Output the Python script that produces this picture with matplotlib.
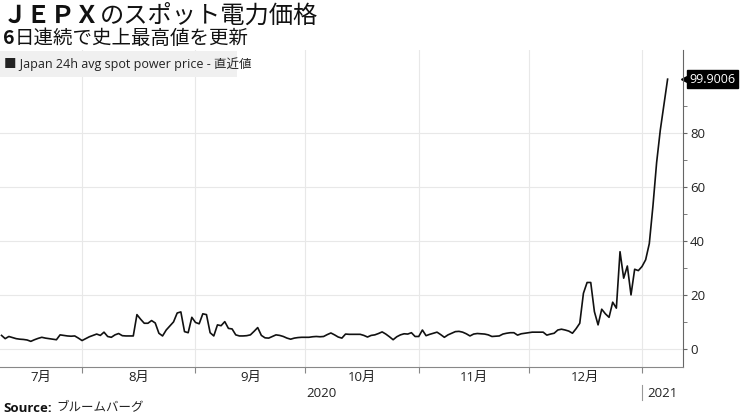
import pandas as pd
import matplotlib
matplotlib.use("Agg")
import matplotlib.pyplot as plt
import matplotlib.dates as mdates
from matplotlib.patches import Rectangle
from matplotlib.lines import Line2D

# daily 24h avg spot price (starts 2020-07-10)
jul = [5.0, 3.8, 4.6, 4.2, 3.8, 3.6, 3.5, 3.3, 2.8, 3.4, 3.9, 4.3, 4.0, 3.8,
       3.6, 3.4, 5.2, 5.0, 4.8, 4.7, 4.8, 4.0]
aug = [3.1, 3.8, 4.5, 5.0, 5.5, 5.0, 6.2, 4.6, 4.3, 5.2, 5.7, 4.9, 4.8, 4.8,
       4.8, 12.7, 11.0, 9.5, 9.5, 10.5, 9.6, 5.8, 4.8, 7.0, 8.5, 10.0, 13.3,
       13.7, 6.4, 6.0, 11.7]
sep = [9.8, 9.3, 13.0, 12.7, 6.0, 4.8, 8.9, 8.6, 10.1, 7.6, 7.4, 5.2, 4.8,
       4.8, 4.9, 5.2, 6.5, 7.9, 5.0, 4.1, 4.0, 4.6, 5.2, 5.0, 4.6, 4.0, 3.6,
       4.0, 4.2, 4.3]
oct_ = [4.3, 4.3, 4.5, 4.6, 4.5, 4.6, 5.3, 5.9, 5.2, 4.4, 4.0, 5.5, 5.4, 5.4,
        5.4, 5.4, 5.0, 4.4, 5.0, 5.2, 5.7, 6.3, 5.5, 4.5, 3.4, 4.5, 5.2, 5.6,
        5.5, 6.0, 4.6]
nov = [4.6, 7.0, 4.9, 5.4, 5.8, 6.2, 5.3, 4.3, 5.2, 5.8, 6.4, 6.5, 6.2, 5.6,
       4.8, 5.5, 5.7, 5.6, 5.5, 5.2, 4.6, 4.7, 4.8, 5.5, 5.8, 6.0, 6.0, 5.1,
       5.6, 5.8]
dec = [6.0, 6.2, 6.2, 6.2, 6.2, 5.1, 5.5, 5.8, 7.0, 7.3, 7.0, 6.6, 5.8, 7.5,
       9.5, 20.6, 24.6, 24.6, 13.8, 8.9, 14.7, 13.0, 11.7, 17.3, 15.1, 36.0,
       26.2, 30.7, 20.0, 29.5, 29.0]
jan = [30.5, 33.0, 39.0, 53.0, 69.0, 81.0, 90.5, 99.9006]

start_date = "2020-07-10"
month_labels = ["7月", "8月", "9月", "10月", "11月", "12月"]
year_labels = ["2020", "2021"]
y_ticks = [0, 20, 40, 60, 80]
last_label = "99.9006"

title_a = "ＪＥＰＸ"
title_b = "のスポット電力価格"
sub_a = "6"
sub_b = "日連続で史上最高値を更新"
legend_text = "■ Japan 24h avg spot power price - 直近値"

plt.rcParams["font.family"] = ["Open Sans", "Noto Sans CJK JP", "DejaVu Sans"]
CJK = ["Noto Sans CJK JP", "DejaVu Sans"]

values = jul + aug + sep + oct_ + nov + dec + jan
dates = pd.date_range(start_date, periods=len(values), freq="D")

W, H = 740, 416
fig = plt.figure(figsize=(W / 100, H / 100), dpi=100)
ax = fig.add_axes([0, 49 / H, 683 / W, 317 / H])

ax.plot(dates, values, color="#111111", lw=1.2, zorder=3)

x0 = pd.Timestamp(start_date) - pd.Timedelta(hours=10)
x1 = pd.Timestamp("2021-01-12 05:00")
ax.set_xlim(x0, x1)
ax.set_ylim(-6.7, 110.7)

# month boundaries (gridlines + small ticks)
month_starts = pd.date_range("2020-07-01", "2021-02-01", freq="MS")
bounds = [m for m in month_starts if x0 < m < x1]
ax.set_xticks(bounds)
ax.set_xticklabels([])
ax.tick_params(axis="x", which="major", length=4, color="#888888", direction="out")

mids = []
for a, b in zip(month_starts[:-1], month_starts[1:]):
    lo, hi = max(a, x0), min(b, x1)
    if hi > lo:
        mids.append(lo + (hi - lo) / 2)
mids = mids[:len(month_labels)]
ax.set_xticks(mids, minor=True)
ax.set_xticklabels(month_labels, minor=True, fontsize=9.5, color="#222222")
ax.tick_params(axis="x", which="minor", length=0, pad=3)

ax.yaxis.tick_right()
ax.set_yticks(y_ticks)
ax.set_yticklabels([str(v) for v in y_ticks], fontsize=9.5, color="#222222")
ax.set_yticks([10, 30, 50, 70, 90], minor=True)
ax.tick_params(axis="y", which="both", length=3, color="#666666", direction="out", pad=2)

ax.grid(True, which="major", color="#e8e8e8", lw=0.8)
ax.set_axisbelow(True)
for s in ["top", "left"]:
    ax.spines[s].set_visible(False)
ax.spines["right"].set_color("#666666")
ax.spines["bottom"].set_color("#888888")
ax.spines["right"].set_linewidth(0.8)
ax.spines["bottom"].set_linewidth(0.8)

# year row
tr = ax.get_xaxis_transform()
jan1_ts = pd.Timestamp("2021-01-01")
ax.text(x0 + (jan1_ts - x0) / 2, -0.083, year_labels[0], transform=tr,
        ha="center", va="center", fontsize=9.5, color="#222222")
ax.text(jan1_ts + (x1 - jan1_ts) / 2, -0.083, year_labels[1], transform=tr,
        ha="center", va="center", fontsize=9.5, color="#222222")
jan1 = mdates.date2num(jan1_ts)
ax.add_line(Line2D([jan1, jan1], [-0.057, -0.104], transform=tr,
                   color="#999999", lw=0.8, clip_on=False))

# last value tag
ty = ax.get_yaxis_transform()
ax.plot([1.004], [values[-1]], marker="<", ms=7, color="black",
        transform=ty, clip_on=False)
ax.text(1.009, values[-1], last_label, transform=ty, ha="left", va="center",
        fontsize=9, color="white",
        bbox=dict(boxstyle="square,pad=0.2", fc="black", ec="black"))

# legend strip
fig.patches.append(Rectangle((0, 1 - 77 / H), 237 / W, 26 / H,
                             transform=fig.transFigure, fc="#f0f0f0",
                             ec="none", zorder=1))
fig.text(4 / W, 1 - 64 / H, legend_text, fontsize=9, color="#222222",
         ha="left", va="center", zorder=2)

# titles: bold first part, regular rest placed right after it
t1 = fig.text(3 / W, 1 - 16 / H, title_a, fontsize=17.5, fontweight="bold",
              family=CJK, ha="left", va="center", color="#111111")
t2 = fig.text(3 / W, 1 - 38 / H, sub_a, fontsize=14, fontweight="bold",
              family=CJK, ha="left", va="center", color="#111111")
s1 = fig.text(3 / W, 1 - 408 / H, "Source:", fontsize=9.5, fontweight="bold",
              ha="left", va="center", color="#111111")

fig.canvas.draw()
r = fig.canvas.get_renderer()
bb1 = t1.get_window_extent(r)
fig.text(bb1.x1 / W, 1 - 16 / H, title_b, fontsize=17.5, family=CJK,
         ha="left", va="center", color="#111111")
bb2 = t2.get_window_extent(r)
fig.text(bb2.x1 / W, 1 - 38 / H, sub_b, fontsize=14, family=CJK, ha="left",
         va="center", color="#111111")
bb3 = s1.get_window_extent(r)
fig.text(bb3.x1 / W + 0.006, 1 - 408 / H, "ブルームバーグ", fontsize=9,
         family=CJK, ha="left", va="center", color="#222222")

fig.savefig("out.png", dpi=100)
